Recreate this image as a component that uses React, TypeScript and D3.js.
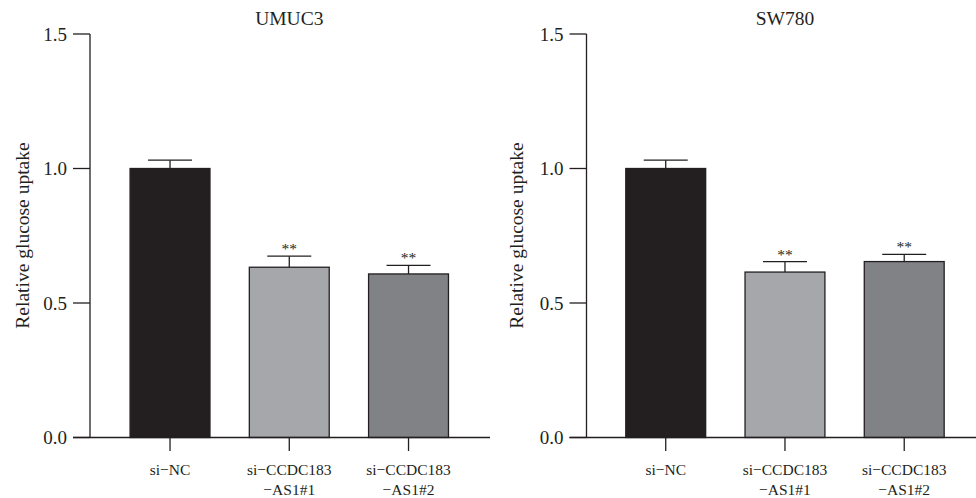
import React from "react";
import * as d3 from "d3";

const categories = ["si\u2212NC", "si\u2212CCDC183\n\u2212AS1#1", "si\u2212CCDC183\n\u2212AS1#2"];
const panelTitles = ["UMUC3", "SW780"];
const umuc3Values = [1.0, 0.633, 0.608];
const umuc3Errors = [0.031, 0.041, 0.032];
const sw780Values = [1.0, 0.615, 0.654];
const sw780Errors = [0.031, 0.039, 0.027];
const significance = ["", "**", "**"];
const yTicks = [0.0, 0.5, 1.0, 1.5];
const yLabel = "Relative glucose uptake";

const barColors = ["#231f20", "#a5a7aa", "#818285"];
const FONT = "'Liberation Serif', 'Times New Roman', serif";

type PanelProps = {
  title: string;
  values: number[];
  errors: number[];
  axisX: number;
  bandStart: number;
  rightEdge: number;
  labelX: number;
};

const y = d3.scaleLinear().domain([0, 1.5]).range([437.5, 34]);
const fmt = d3.format(".1f");

function Panel({ title, values, errors, axisX, bandStart, rightEdge, labelX }: PanelProps) {
  const step = 119.25;
  const x = d3
    .scaleBand<string>()
    .domain(categories)
    .range([bandStart, bandStart + step * categories.length])
    .paddingInner(0.33)
    .paddingOuter(0.165);
  const bw = x.bandwidth();
  const tickLeft = axisX - 17;
  const y0 = y(0);
  const stroke = "#231f20";
  return (
    <g>
      <text x={(bandStart + bandStart + step * 3) / 2} y={25} textAnchor="middle" fontSize={19.5} fontFamily={FONT} fill="#231f20">
        {title}
      </text>
      <text
        transform={`translate(${labelX},${235.5}) rotate(-90)`}
        textAnchor="middle"
        fontSize={19.5}
        fontFamily={FONT}
        fill="#231f20"
      >
        {yLabel}
      </text>
      {categories.map((c, i) => {
        const bx = x(c)!;
        const cx = bx + bw / 2;
        const top = y(values[i]);
        const errTop = y(values[i] + errors[i]);
        return (
          <g key={c}>
            <rect x={bx} y={top} width={bw} height={y0 - top} fill={barColors[i]} stroke={stroke} strokeWidth={1.3} />
            <line x1={cx} x2={cx} y1={top} y2={errTop} stroke={stroke} strokeWidth={1.3} />
            <line x1={cx - 22} x2={cx + 22} y1={errTop} y2={errTop} stroke={stroke} strokeWidth={1.3} />
            {significance[i] && (
              <text x={cx} y={errTop - 2} textAnchor="middle" fontSize={15.5} fontFamily={FONT} fill="#231f20">
                {significance[i]}
              </text>
            )}
            <line x1={cx} x2={cx} y1={y0} y2={y0 + 13.5} stroke={stroke} strokeWidth={1.3} />
            {c.split("\n").map((line, k) => (
              <text key={k} x={cx} y={475 + k * 20} textAnchor="middle" fontSize={15.5} fontFamily={FONT} fill="#231f20">
                {line}
              </text>
            ))}
          </g>
        );
      })}
      <line x1={axisX} x2={axisX} y1={y(1.5)} y2={y0} stroke={stroke} strokeWidth={1.3} />
      <line x1={tickLeft} x2={rightEdge} y1={y0} y2={y0} stroke={stroke} strokeWidth={1.3} />
      {yTicks.map((t) => (
        <g key={t}>
          <line x1={tickLeft} x2={axisX} y1={y(t)} y2={y(t)} stroke={stroke} strokeWidth={1.3} />
          <text x={tickLeft - 6} y={y(t)} dy="0.35em" textAnchor="end" fontSize={19} fontFamily={FONT} fill="#231f20">
            {fmt(t)}
          </text>
        </g>
      ))}
    </g>
  );
}

export default function App() {
  return (
    <svg
      width={976}
      height={498}
      style={{ position: "fixed", left: 0, top: 0, background: "#fff" }}
    >
      <rect width={976} height={498} fill="#fff" />
      <Panel title={panelTitles[0]} values={umuc3Values} errors={umuc3Errors} axisX={90} bandStart={110.4} rightEdge={490} labelX={29} />
      <Panel title={panelTitles[1]} values={sw780Values} errors={sw780Errors} axisX={586.5} bandStart={606.1} rightEdge={976} labelX={523} />
    </svg>
  );
}
